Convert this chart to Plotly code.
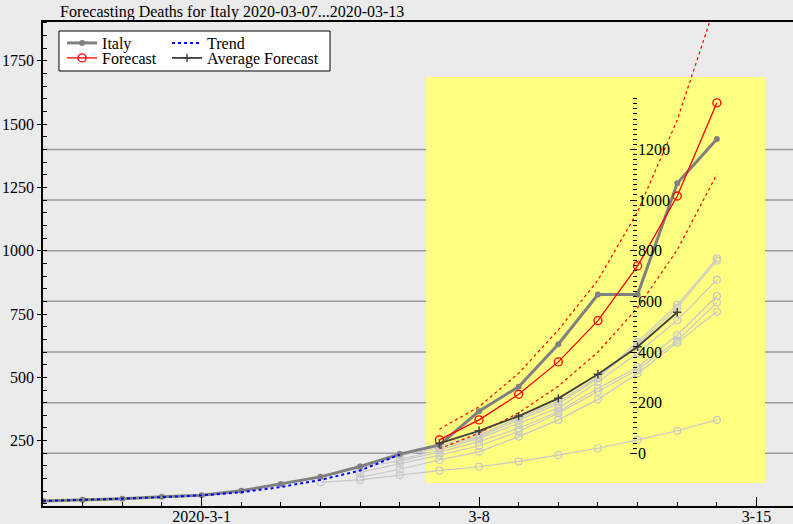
import plotly.graph_objects as go
import pandas as pd

FONT = "Liberation Serif"

# ---------------- data ----------------
italy_start = "2020-02-26"
italy_deaths = [12, 17, 21, 29, 34, 52, 79, 107, 148, 197, 233, 366, 463, 631, 827, 827, 1266, 1441]

trend_start = "2020-02-26"
trend_values = [12, 16, 21, 27, 34, 46, 67, 95, 132, 195]

forecast_start = "2020-03-07"
forecast_values = [253, 332, 433, 561, 724, 940, 1216, 1584]
forecast_upper = [295, 384, 516, 687, 884, 1154, 1516, 1990]
forecast_lower = [218, 280, 360, 465, 600, 775, 1003, 1302]

average_start = "2020-03-07"
average_values = [239, 289, 347, 417, 512, 621, 757]

# earlier forecasts (light grey)
old_a_start, old_a = "2020-03-06", [193, 229, 272, 340, 404, 500, 640, 786, 970]
old_b_start, old_b = "2020-03-06", [190, 222, 265, 332, 395, 496, 630, 775, 961]
old_c_start, old_c = "2020-03-06", [176, 213, 259, 319, 378, 483, 595, 725, 885]
old_d_start, old_d = "2020-03-05", [145, 170, 205, 246, 299, 365, 457, 540, 667, 821]
old_e_start, old_e = "2020-03-05", [125, 158, 193, 230, 286, 358, 444, 530, 645, 795]
old_f_start, old_f = "2020-03-05", [105, 137, 174, 206, 266, 332, 413, 515, 637, 759]
old_g_start, old_g = "2020-03-04", [86, 95, 114, 132, 147, 168, 193, 220, 253, 289, 332]

x_tick_vals = ["2020-03-01", "2020-03-08", "2020-03-15"]
x_tick_text = ["2020-3-1", "3-8", "3-15"]
y_tick_vals = [250, 500, 750, 1000, 1250, 1500, 1750]
grid_values = [200, 400, 600, 800, 1000, 1200, 1400]
inset_tick_vals = [0, 200, 400, 600, 800, 1000, 1200]
inset_offset = 200


def dates(start, values):
    return pd.date_range(start, periods=len(values), freq="D")


fig = go.Figure()

GREY_LIGHT = "#c8c8c8"
for start, vals in [(old_g_start, old_g), (old_f_start, old_f), (old_e_start, old_e),
                    (old_d_start, old_d), (old_c_start, old_c), (old_b_start, old_b),
                    (old_a_start, old_a)]:
    fig.add_trace(go.Scatter(
        x=dates(start, vals), y=vals, mode="lines+markers",
        line=dict(color=GREY_LIGHT, width=1.2),
        marker=dict(symbol="circle-open", size=7, color=GREY_LIGHT, line=dict(width=1.2)),
        showlegend=False, hoverinfo="skip"))

fig.add_trace(go.Scatter(
    x=dates(italy_start, italy_deaths), y=italy_deaths, mode="lines+markers", name="Italy",
    line=dict(color="#808080", width=3),
    marker=dict(symbol="circle", size=6, color="#808080"),
    legend="legend"))

fig.add_trace(go.Scatter(
    x=dates(trend_start, trend_values), y=trend_values, mode="lines", name="Trend",
    line=dict(color="#0000ff", width=2, dash="dot"),
    legend="legend2"))

for band in (forecast_upper, forecast_lower):
    fig.add_trace(go.Scatter(
        x=dates(forecast_start, band), y=band, mode="lines",
        line=dict(color="#ff0000", width=1.2, dash="dot"),
        showlegend=False, hoverinfo="skip"))

fig.add_trace(go.Scatter(
    x=dates(forecast_start, forecast_values), y=forecast_values, mode="lines+markers",
    name="Forecast",
    line=dict(color="#ff0000", width=1.3),
    marker=dict(symbol="circle-open", size=8, color="#ff0000", line=dict(width=1.3)),
    legend="legend3"))

fig.add_trace(go.Scatter(
    x=dates(average_start, average_values), y=average_values, mode="lines+markers",
    name="Average Forecast",
    line=dict(color="#404040", width=1.8),
    marker=dict(symbol="cross-thin", size=6, color="#404040", line=dict(width=1.5, color="#404040")),
    legend="legend4"))

# empty trace so that the inset axis is attached to a subplot
fig.add_trace(go.Scatter(x=[], y=[], yaxis="y2", showlegend=False, hoverinfo="skip"))

Y_MIN, Y_MAX = -8, 1903

shapes = []
for g in grid_values:
    shapes.append(dict(type="line", xref="paper", yref="y", x0=0, x1=1, y0=g, y1=g,
                       line=dict(color="#9a9a9a", width=1.5), layer="below"))
shapes.append(dict(type="rect", xref="x", yref="y",
                   x0="2020-03-06 15:53", x1="2020-03-15 05:08", y0=83, y1=1686,
                   fillcolor="#ffff80", line=dict(width=0), layer="below"))
# legend frame
shapes.append(dict(type="rect", xref="paper", yref="paper",
                   x0=0.0213, x1=0.3827, y0=0.8988, y1=0.9814,
                   fillcolor="white", line=dict(color="black", width=1), layer="above"))

legend_common = dict(bgcolor="rgba(0,0,0,0)", borderwidth=0, font=dict(family=FONT, size=16, color="black"),
                     xanchor="left", yanchor="middle", itemwidth=30)

fig.update_layout(
    width=793, height=524,
    margin=dict(l=43, r=0, t=22, b=18),
    paper_bgcolor="#ebebeb", plot_bgcolor="#ebebeb",
    font=dict(family=FONT, size=16, color="black"),
    shapes=shapes,
    showlegend=True,
    legend=dict(x=0.0254, y=0.9566, **legend_common),
    legend2=dict(x=0.1654, y=0.9566, **legend_common),
    legend3=dict(x=0.0254, y=0.9256, **legend_common),
    legend4=dict(x=0.1654, y=0.9256, **legend_common),
    xaxis=dict(
        type="date", range=["2020-02-26", "2020-03-15 22:05"],
        tickmode="array", tickvals=x_tick_vals, ticktext=x_tick_text,
        ticks="inside", ticklen=9, tickwidth=1.3, tickcolor="black",
        ticklabelstandoff=-5,
        minor=dict(dtick=86400000, tick0="2020-02-26", ticks="inside", ticklen=4,
                   tickwidth=1.3, tickcolor="black", showgrid=False),
        showgrid=False, zeroline=False,
        showline=True, linecolor="black", linewidth=1.5, mirror=True,
        tickfont=dict(family=FONT, size=16, color="black"),
        automargin=False,
    ),
    yaxis=dict(
        range=[Y_MIN, Y_MAX], tickmode="array", tickvals=y_tick_vals,
        ticks="outside", ticklen=4, tickwidth=1.3, tickcolor="black",
        minor=dict(dtick=50, tick0=0, ticks="inside", ticklen=4, tickwidth=1.3,
                   tickcolor="black", showgrid=False),
        showgrid=False, zeroline=False,
        showline=True, linecolor="black", linewidth=1.5,
        tickfont=dict(family=FONT, size=16, color="black"),
        automargin=False,
    ),
    yaxis2=dict(
        overlaying="y", anchor="free", position=0.792, side="right",
        range=[Y_MIN - inset_offset, Y_MAX - inset_offset],
        tickmode="array", tickvals=inset_tick_vals,
        ticks="inside", ticklen=7, tickwidth=1.4, tickcolor="black",
        minor=dict(tickmode="array",
                   tickvals=[v for v in range(0, 1401, 20) if v not in inset_tick_vals],
                   ticks="inside", ticklen=4, tickwidth=1.4, tickcolor="black", showgrid=False),
        showgrid=False, zeroline=False, showline=False,
        tickfont=dict(family=FONT, size=16, color="black"),
        automargin=False,
    ),
    annotations=[dict(text="Forecasting Deaths for Italy 2020-03-07...2020-03-13",
                      xref="paper", yref="paper", x=0.0200, y=1.0207,
                      xanchor="left", yanchor="middle", showarrow=False,
                      font=dict(family=FONT, size=16, color="black"))],
)

fig.write_html("out.html", config={"displayModeBar": False},
               post_script="document.body.style.margin='0';")
